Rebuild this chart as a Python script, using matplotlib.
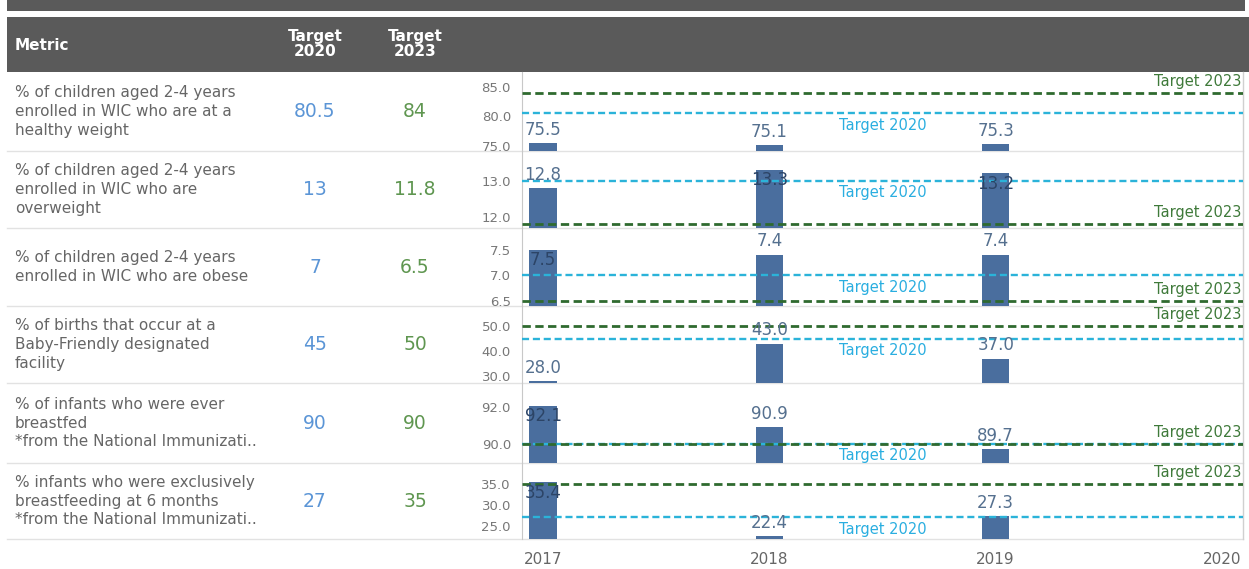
import matplotlib
matplotlib.use("Agg")
import matplotlib.pyplot as plt
from matplotlib.patches import Rectangle

# table columns
metrics = [
    "% of children aged 2-4 years\nenrolled in WIC who are at a\nhealthy weight",
    "% of children aged 2-4 years\nenrolled in WIC who are\noverweight",
    "% of children aged 2-4 years\nenrolled in WIC who are obese",
    "% of births that occur at a\nBaby-Friendly designated\nfacility",
    "% of infants who were ever\nbreastfed\n*from the National Immunizati..",
    "% infants who were exclusively\nbreastfeeding at 6 months\n*from the National Immunizati..",
]
target_2020 = [80.5, 13, 7, 45, 90, 27]
target_2023 = [84, 11.8, 6.5, 50, 90, 35]

# bar values per year
years = [2017, 2018, 2019]
values_2017 = [75.5, 12.8, 7.5, 28.0, 92.1, 35.4]
values_2018 = [75.1, 13.3, 7.4, 43.0, 90.9, 22.4]
values_2019 = [75.3, 13.2, 7.4, 37.0, 89.7, 27.3]
x_ticks = [2017, 2018, 2019, 2020]

# per-row axis ranges and ticks
y_ranges = [(74.1, 87.5), (11.69, 13.82), (6.40, 7.92), (27.2, 58.0), (88.96, 93.33), (21.8, 40.0)]
y_ticks = [[75, 80, 85], [12, 13], [6.5, 7.0, 7.5], [30, 40, 50], [90, 92], [25, 30, 35]]

W, H = 1249, 569
fig = plt.figure(figsize=(W / 100, H / 100), dpi=100)
fig.patch.set_facecolor("white")

# background layer in pixel coordinates
bg = fig.add_axes([0, 0, 1, 1], zorder=0)
bg.set_xlim(0, W)
bg.set_ylim(H, 0)
bg.axis("off")

header_col = "#5a5a5a"
bg.add_patch(Rectangle((7, 0), 1238, 11, color=header_col, lw=0))
bg.add_patch(Rectangle((7, 17), 1242, 55, color=header_col, lw=0))
bg.text(15, 45, "Metric", color="white", fontsize=11, fontweight="bold", va="center")
bg.text(315, 44, "Target\n2020", color="white", fontsize=11, fontweight="bold",
        ha="center", va="center", linespacing=0.95)
bg.text(415, 44, "Target\n2023", color="white", fontsize=11, fontweight="bold",
        ha="center", va="center", linespacing=0.95)

row_edges = [72, 151, 228, 306, 383, 463, 539]
for y in row_edges[1:]:
    bg.plot([7, 1243], [y, y], color="#e2e2e2", lw=1)
bg.plot([1243, 1243], [72, 539], color="#d0d0d0", lw=1)

for i, m in enumerate(metrics):
    yc = (row_edges[i] + row_edges[i + 1]) / 2
    bg.text(15, yc, m, color="#666666", fontsize=11, va="center", linespacing=1.3)
    bg.text(315, yc, f"{target_2020[i]:g}", color="#5b95d6", fontsize=13.5, ha="center", va="center")
    bg.text(415, yc, f"{target_2023[i]:g}", color="#5f9650", fontsize=13.5, ha="center", va="center")

bar_col = "#4a6e9e"
green = "#2f6a2f"
cyan = "#2bb3d9"
x0, x1 = 522, 1243
for i in range(len(metrics)):
    top, bot = row_edges[i], row_edges[i + 1]
    ax = fig.add_axes([x0 / W, 1 - bot / H, (x1 - x0) / W, (bot - top) / H], zorder=1)
    ax.patch.set_alpha(0)
    lo, hi = y_ranges[i]
    ax.set_xlim(2016.907, 2020.093)
    ax.set_ylim(lo, hi)
    vals = [values_2017[i], values_2018[i], values_2019[i]]
    ax.bar(years, vals, width=0.12, color=bar_col, zorder=2)

    ax.axhline(target_2020[i], color=cyan, lw=1.7, ls=(0, (3, 1.6)), zorder=3)
    ax.axhline(target_2023[i], color=green, lw=2.0, ls=(0, (3, 1.6)), zorder=4)
    ax.annotate("Target 2023", (2020.085, target_2023[i]), xytext=(0, 8), textcoords="offset points",
                ha="right", va="center", color="#3f7a3a", fontsize=10.5)
    ax.annotate("Target 2020", (2018.5, target_2020[i]), xytext=(0, -8.5), textcoords="offset points",
                ha="center", va="center", color="#2aaee0", fontsize=10.5)

    # value labels: inside the bar top when there is no room above
    row_h = bot - top
    for x, v in zip(years, vals):
        room = (hi - v) / (hi - lo) * row_h
        if room < 24:
            ax.annotate(f"{v:.1f}", (x, v), xytext=(0, -7.5), textcoords="offset points",
                        ha="center", va="center", color="#2c4466", fontsize=12, zorder=5)
        else:
            ax.annotate(f"{v:.1f}", (x, v), xytext=(0, 9.5), textcoords="offset points",
                        ha="center", va="center", color="#55708f", fontsize=12, zorder=5)

    ax.set_yticks(y_ticks[i])
    ax.set_yticklabels([f"{t:.1f}" for t in y_ticks[i]])
    ax.tick_params(axis="y", length=0, pad=8, labelsize=9.5, labelcolor="#777777")
    for s in ["top", "right", "bottom"]:
        ax.spines[s].set_visible(False)
    ax.spines["left"].set_color("#c8c8c8")
    if i == len(metrics) - 1:
        ax.set_xticks(x_ticks)
        ax.tick_params(axis="x", length=0, pad=9, labelsize=11, labelcolor="#666666")
    else:
        ax.set_xticks([])

fig.savefig("out.png", dpi=100)
